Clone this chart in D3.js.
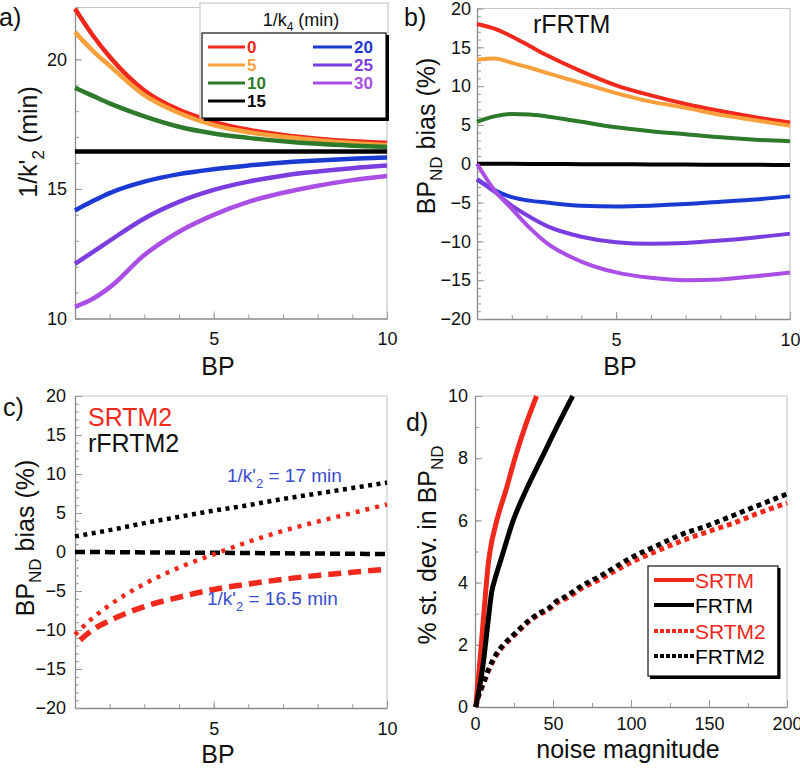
<!DOCTYPE html>
<html><head><meta charset="utf-8">
<script src="https://cdn.jsdelivr.net/npm/d3@7"></script>
<style>
body{margin:0;background:#fff;}
svg{font-family:"Liberation Sans", Arial, Helvetica, sans-serif;}
</style></head><body>
<svg id="chart" width="800" height="768"></svg>
<script>
// ---------- Panel a: 1/k'2 vs BP for several 1/k4 ----------
const bpA = [1, 1.5, 2, 3, 4, 5, 6, 7, 8, 9, 10];
const k4Labels = ["0", "5", "10", "15", "20", "25", "30"];
const aK0  = [21.95, 20.95, 20.1, 18.8, 18.05, 17.59, 17.28, 17.08, 16.94, 16.84, 16.78];
const aK5  = [21.05, 20.35, 19.75, 18.62, 17.93, 17.46, 17.19, 17.01, 16.88, 16.77, 16.69];
const aK10 = [18.9, 18.6, 18.3, 17.8, 17.4, 17.14, 16.97, 16.84, 16.74, 16.67, 16.62];
const aK15 = [16.44, 16.44, 16.44, 16.44, 16.44, 16.44, 16.44, 16.44, 16.44, 16.44, 16.44];
const aK20 = [14.17, 14.52, 14.84, 15.28, 15.57, 15.76, 15.9, 16.02, 16.1, 16.16, 16.21];
const aK25 = [12.11, 12.55, 13.0, 13.86, 14.5, 14.96, 15.28, 15.51, 15.67, 15.8, 15.9];
const aK30 = [10.45, 10.75, 11.2, 12.45, 13.35, 14.0, 14.5, 14.85, 15.12, 15.34, 15.5];

// ---------- Panel b: rFRTM BPND bias ----------
const bpB = [1, 1.5, 2, 2.5, 3, 4, 5, 6, 7, 8, 9, 10];
const bK0  = [18.0, 17.4, 16.4, 15.2, 14.0, 11.9, 10.1, 8.8, 7.7, 6.8, 6.0, 5.3];
const bK5  = [13.4, 13.55, 13.0, 12.4, 11.7, 10.4, 9.1, 8.0, 7.2, 6.3, 5.6, 4.9];
const bK10 = [5.4, 6.1, 6.4, 6.35, 6.1, 5.4, 4.7, 4.2, 3.8, 3.4, 3.1, 2.9];
const bK15 = [0, 0, -0.01, -0.02, -0.03, -0.05, -0.07, -0.09, -0.11, -0.12, -0.14, -0.15];
const bK20 = [-2.0, -3.4, -4.3, -4.75, -5.0, -5.4, -5.5, -5.4, -5.2, -4.9, -4.6, -4.2];
const bK25 = [-2.0, -3.6, -5.4, -6.8, -8.0, -9.4, -10.1, -10.3, -10.2, -9.9, -9.5, -9.0];
const bK30 = [0, -3.4, -5.8, -8.2, -10.2, -12.6, -14.0, -14.7, -15.0, -14.9, -14.5, -14.0];

// ---------- Panel c: SRTM2 / rFRTM2 bias ----------
const bpC = [1, 1.5, 2, 3, 4, 5, 6, 7, 8, 9, 10];
const cRFRTM2_17  = [2.0, 2.4, 2.8, 3.7, 4.5, 5.3, 6.0, 6.8, 7.5, 8.2, 8.9];
const cRFRTM2_165 = [0.0, 0.0, -0.02, -0.05, -0.08, -0.1, -0.13, -0.17, -0.2, -0.23, -0.27];
const cSRTM2_17   = [-10.6, -8.5, -6.8, -4.1, -2.0, -0.3, 1.3, 2.7, 3.9, 5.0, 6.1];
const bpC2        = [1.15, 1.5, 2, 3, 4, 5, 6, 7, 8, 9, 10];
const cSRTM2_165  = [-11.3, -10.0, -8.8, -7.0, -5.8, -4.8, -4.1, -3.5, -3.0, -2.6, -2.2];

// ---------- Panel d: % st. dev. vs noise ----------
const noiseSRTM = [0.5, 3.2, 6, 8.5, 9.6, 14, 20, 25.6, 32, 39.5];
const sdSRTM    = [0, 1.5, 3.2, 4.6, 5.0, 6.0, 7.0, 8.0, 9.0, 10.0];
const noiseFRTM = [0.5, 5, 8.5, 10.7, 13, 17, 24.5, 33, 42.7, 52.4, 62.6];
const sdFRTM    = [0, 1.3, 2.8, 3.7, 4.15, 4.8, 6.0, 7.0, 8.0, 9.0, 10.0];
const noise2    = [0.5, 2, 4, 6.5, 8.5, 11, 14, 18, 23.5, 29, 35, 41, 47, 52, 58, 63, 68, 73, 80, 90, 100, 115, 133, 150, 165, 180, 200];
const sdFRTM2   = [0, 0.33, 0.6, 0.92, 1.19, 1.46, 1.73, 1.99, 2.26, 2.53, 2.8, 3.01, 3.17, 3.39, 3.55, 3.71, 3.88, 4.02, 4.2, 4.5, 4.8, 5.15, 5.56, 5.85, 6.15, 6.45, 6.85];
const sdSRTM2   = [0, 0.3, 0.57, 0.88, 1.15, 1.42, 1.69, 1.95, 2.22, 2.49, 2.76, 2.97, 3.12, 3.33, 3.48, 3.63, 3.8, 3.93, 4.1, 4.38, 4.65, 4.98, 5.35, 5.65, 5.9, 6.2, 6.56];
const dLegend = ["SRTM", "FRTM", "SRTM2", "FRTM2"];

// ---------- drawing ----------
const svg = d3.select("#chart");
const RED = "#f0291c", ORANGE = "#f7a03c", GREEN = "#2d7a2a", BLACK = "#000",
      BLUE = "#1a3ad2", PURPLE = "#7a3de0", VIOLET = "#aa4fe6", ABLUE = "#3a4dd0";

function panel(cfg) {
  const x = d3.scaleLinear().domain(cfg.xd).range(cfg.xr);
  const y = d3.scaleLinear().domain(cfg.yd).range(cfg.yr);
  const g = svg.append("g");
  g.append("path").attr("d", `M${cfg.xr[0]},${cfg.yr[1]}H${cfg.xr[1]}V${cfg.yr[0]}`)
    .attr("fill", "none").attr("stroke", "#c8c8c8").attr("stroke-width", 1.2);
  const styleAxis = (sel) => {
    sel.attr("font-family", null).attr("font-size", null);
    sel.select(".domain").attr("stroke", "#8a8a8a").attr("stroke-width", 1.3);
    sel.selectAll(".tick line").attr("stroke", "#9a9a9a").attr("stroke-width", 1);
    sel.selectAll(".tick text").attr("fill", "#111").style("font-size", "18px");
  };
  g.append("g").attr("transform", `translate(0,${cfg.yr[0]})`)
    .call(d3.axisBottom(x).tickValues(cfg.xMinor).tickSize(-4).tickFormat(""))
    .call(styleAxis).call(s => s.select(".domain").remove());
  g.append("g").attr("transform", `translate(${cfg.xr[0]},0)`)
    .call(d3.axisLeft(y).tickValues(cfg.yMinor).tickSize(-4).tickFormat(""))
    .call(styleAxis).call(s => s.select(".domain").remove());
  g.append("g").attr("transform", `translate(0,${cfg.yr[0]})`)
    .call(d3.axisBottom(x).tickValues(cfg.xMajor).tickSize(-7).tickSizeOuter(0).tickPadding(cfg.xPad).tickFormat(d3.format("d")))
    .call(styleAxis);
  g.append("g").attr("transform", `translate(${cfg.xr[0]},0)`)
    .call(d3.axisLeft(y).tickValues(cfg.yMajor).tickSize(-7).tickSizeOuter(0).tickPadding(cfg.yPad).tickFormat(d3.format("d")))
    .call(styleAxis);
  return {x, y, g};
}

function drawLine(p, xs, ys, color, width, dash) {
  const line = d3.line().x(d => p.x(d[0])).y(d => p.y(d[1])).curve(d3.curveMonotoneX);
  p.g.append("path").datum(xs.map((v, i) => [v, ys[i]]))
    .attr("d", line).attr("fill", "none").attr("stroke", color)
    .attr("stroke-width", width).attr("stroke-dasharray", dash || null);
}

function ylabel(xb, yc, parts) {
  const t = svg.append("text").attr("transform", `translate(${xb},${yc}) rotate(-90)`)
    .attr("text-anchor", "middle").style("font-size", "25px").attr("fill", "#111");
  parts.forEach(pt => {
    const s = t.append("tspan").text(pt.t);
    if (pt.sub) s.attr("dy", 7).style("font-size", "17px");
    if (pt.back) s.attr("dy", -7);
  });
}
function text(xp, yp, str, size, color, anchor, weight) {
  return svg.append("text").attr("x", xp).attr("y", yp).text(str)
    .style("font-size", size + "px").attr("fill", color || "#111")
    .attr("text-anchor", anchor || "start").attr("font-weight", weight || null);
}
const ints = d3.range(1, 11);

// Panel a
const pa = panel({xd: [1, 10], xr: [75, 387], yd: [10, 22], yr: [318.5, 7.5],
  xMajor: [5, 10], xMinor: ints, yMajor: [10, 15, 20], yMinor: d3.range(10, 23), xPad: 14, yPad: 8});
const aSeries = [aK0, aK5, aK10, aK15, aK20, aK25, aK30];
const colors = [RED, ORANGE, GREEN, BLACK, BLUE, PURPLE, VIOLET];
aSeries.forEach((s, i) => drawLine(pa, bpA, s, colors[i], 4.5));
text(-1, 26, "a)", 25);
ylabel(36.5, 142, [{t: "1/k'"}, {t: "2", sub: true}, {t: " (min)", back: true}]);
text(218, 375, "BP", 25, "#111", "middle");
// legend a
svg.append("rect").attr("x", 200).attr("y", 3).attr("width", 188).attr("height", 115)
  .attr("fill", "#fff").attr("stroke", "#c8c8c8").attr("stroke-width", 1.2);
const ttl = text(301, 26, "1/k", 18, "#111", "middle");
ttl.append("tspan").text("4").attr("dy", 5).style("font-size", "12px");
ttl.append("tspan").text(" (min)").attr("dy", -5);
svg.append("rect").attr("x", 202).attr("y", 33).attr("width", 184).attr("height", 85)
  .attr("fill", "#fff").attr("stroke", "#222").attr("stroke-width", 1.3);
svg.append("path").attr("d", "M387.5,35V119.5H204").attr("fill", "none").attr("stroke", "#000").attr("stroke-width", 3);
const legRowsY = [47, 65, 83, 101];
k4Labels.forEach((lab, i) => {
  const col = i < 4 ? 0 : 1, row = i < 4 ? i : i - 4;
  const x0 = col ? 313 : 208, x1 = col ? 352 : 245;
  const yy = legRowsY[row];
  svg.append("line").attr("x1", x0).attr("x2", x1).attr("y1", yy).attr("y2", yy)
    .attr("stroke", colors[i]).attr("stroke-width", 3);
  text(x1 + 2, yy + 6, lab, 17, colors[i], "start", "bold");
});

// Panel b
const pb = panel({xd: [1, 10], xr: [477, 790], yd: [-20, 20], yr: [319, 8.5],
  xMajor: [5, 10], xMinor: ints, yMajor: d3.range(-20, 21, 5), yMinor: d3.range(-20, 21), xPad: 14, yPad: 6});
[bK0, bK5, bK10, bK15, bK20, bK25, bK30].forEach((s, i) => drawLine(pb, bpB, s, colors[i], 4));
text(404, 26, "b)", 25);
text(533, 33, "rFRTM", 25);
ylabel(435, 136, [{t: "BP"}, {t: "ND", sub: true}, {t: " bias (%)", back: true}]);
text(620, 375, "BP", 25, "#111", "middle");

// Panel c
const pc = panel({xd: [1, 10], xr: [75, 387], yd: [-20, 20], yr: [708, 396],
  xMajor: [5, 10], xMinor: ints, yMajor: d3.range(-20, 21, 5), yMinor: d3.range(-20, 21), xPad: 14, yPad: 9});
drawLine(pc, bpC, cRFRTM2_17, BLACK, 4.5, "4,4.5");
drawLine(pc, bpC, cRFRTM2_165, BLACK, 4.5, "10,5");
drawLine(pc, bpC, cSRTM2_17, RED, 4.5, "4,6");
drawLine(pc, bpC2, cSRTM2_165, RED, 5.5, "13,7");
text(3, 416, "c)", 25);
text(88, 426, "SRTM2", 25, RED);
text(88, 452, "rFRTM2", 25, "#111");
const t17 = text(227, 482, "1/k'", 19, ABLUE);
t17.append("tspan").text("2").attr("dy", 6).style("font-size", "13px");
t17.append("tspan").text(" = 17 min").attr("dy", -6);
const t165 = text(207, 605, "1/k'", 19, ABLUE);
t165.append("tspan").text("2").attr("dy", 6).style("font-size", "13px");
t165.append("tspan").text(" = 16.5 min").attr("dy", -6);
ylabel(33.5, 538, [{t: "BP"}, {t: "ND", sub: true}, {t: " bias (%)", back: true}]);
text(218, 763, "BP", 25, "#111", "middle");

// Panel d
const pd = panel({xd: [0, 200], xr: [475, 787], yd: [0, 10], yr: [707, 396],
  xMajor: [0, 50, 100, 150, 200], xMinor: d3.range(0, 201, 25), yMajor: d3.range(0, 11, 2), yMinor: d3.range(0, 11), xPad: 10, yPad: 7});
drawLine(pd, noiseSRTM, sdSRTM, RED, 5);
drawLine(pd, noiseFRTM, sdFRTM, BLACK, 5);
drawLine(pd, noise2, sdSRTM2, RED, 5, "5,4");
drawLine(pd, noise2, sdFRTM2, BLACK, 5, "5,4");
text(406, 431, "d)", 25);
ylabel(436, 545, [{t: "% st. dev. in BP"}, {t: "ND", sub: true}]);
text(628, 758, "noise magnitude", 25, "#111", "middle");
// legend d
svg.append("rect").attr("x", 648).attr("y", 566).attr("width", 130).attr("height", 110)
  .attr("fill", "#fff").attr("stroke", "#222").attr("stroke-width", 1.3);
svg.append("path").attr("d", "M779,568V677.5H650").attr("fill", "none").attr("stroke", "#000").attr("stroke-width", 3);
const dCols = [RED, BLACK, RED, BLACK], dDash = [null, null, "4,2", "4,2"], dRows = [580, 605, 631, 656];
dLegend.forEach((lab, i) => {
  svg.append("line").attr("x1", 654).attr("x2", 694).attr("y1", dRows[i]).attr("y2", dRows[i])
    .attr("stroke", dCols[i]).attr("stroke-width", 4).attr("stroke-dasharray", dDash[i]);
  text(695, dRows[i] + 7.5, lab, 21, dCols[i]);
});
</script>
</body></html>
